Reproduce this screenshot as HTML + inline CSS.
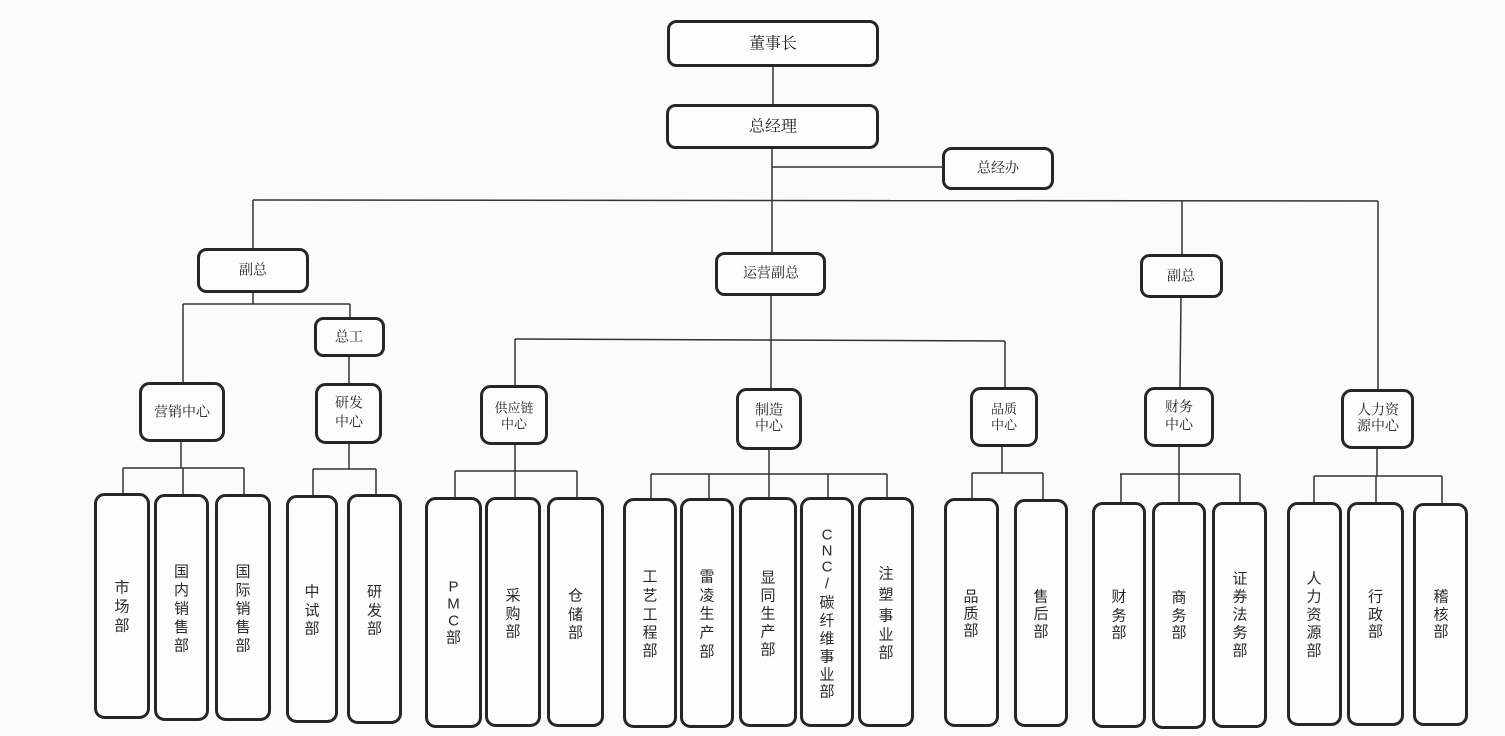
<!DOCTYPE html>
<html>
<head>
<meta charset="utf-8">
<style>
html,body{margin:0;padding:0;background:#fbfbfb;}
svg{display:block;}
.b{fill:#fdfdfd;stroke:#262626;stroke-width:3;}
.l{stroke:#333;stroke-width:1.5;fill:none;}
.t{font-family:"Liberation Serif","Noto Serif CJK SC",serif;fill:#222;text-anchor:middle;dominant-baseline:central;}
.s{font-family:"Liberation Sans","Noto Sans CJK SC",sans-serif;fill:#2a2a2a;text-anchor:middle;dominant-baseline:central;font-size:15px;}
</style>
</head>
<body>
<svg width="1505" height="736" viewBox="0 0 1505 736" xmlns="http://www.w3.org/2000/svg">
<rect x="0" y="0" width="1505" height="736" fill="#fbfbfb"/>

<!-- connectors -->
<g class="l">
<line x1="773" y1="67" x2="773" y2="104"/>
<line x1="772" y1="149" x2="772" y2="252"/>
<line x1="772" y1="167" x2="942" y2="167"/>
<line x1="253" y1="200" x2="1378" y2="201"/>
<line x1="253" y1="200" x2="253" y2="248"/>
<line x1="1182" y1="201" x2="1182" y2="254"/>
<line x1="1378" y1="201" x2="1378" y2="389"/>
<!-- left VP -->
<line x1="253" y1="293" x2="253" y2="304"/>
<line x1="183" y1="304" x2="350" y2="304"/>
<line x1="183" y1="304" x2="183" y2="382"/>
<line x1="350" y1="304" x2="350" y2="317"/>
<line x1="349" y1="357" x2="349" y2="383"/>
<!-- 营销 -->
<line x1="181" y1="442" x2="181" y2="468"/>
<line x1="123" y1="468" x2="244" y2="468"/>
<line x1="123" y1="468" x2="123" y2="494"/>
<line x1="183" y1="468" x2="183" y2="495"/>
<line x1="244" y1="468" x2="244" y2="495"/>
<!-- 研发 -->
<line x1="349" y1="444" x2="349" y2="469"/>
<line x1="313" y1="469" x2="376" y2="469"/>
<line x1="313" y1="469" x2="313" y2="496"/>
<line x1="376" y1="469" x2="376" y2="495"/>
<!-- 运营副总 -->
<line x1="771" y1="296" x2="771" y2="340"/>
<line x1="515" y1="339" x2="1005" y2="341"/>
<line x1="515" y1="339" x2="515" y2="385"/>
<line x1="771" y1="340" x2="771" y2="388"/>
<line x1="1005" y1="341" x2="1005" y2="387"/>
<!-- 供应链 -->
<line x1="515" y1="445" x2="515" y2="471"/>
<line x1="455" y1="471" x2="577" y2="471"/>
<line x1="455" y1="471" x2="455" y2="498"/>
<line x1="515" y1="471" x2="515" y2="498"/>
<line x1="577" y1="471" x2="577" y2="498"/>
<!-- 制造 -->
<line x1="769" y1="450" x2="769" y2="474"/>
<line x1="651" y1="474" x2="887" y2="474"/>
<line x1="651" y1="474" x2="651" y2="499"/>
<line x1="709" y1="474" x2="709" y2="499"/>
<line x1="769" y1="474" x2="769" y2="498"/>
<line x1="828" y1="474" x2="828" y2="498"/>
<line x1="887" y1="474" x2="887" y2="498"/>
<!-- 品质 -->
<line x1="1002" y1="447" x2="1002" y2="473"/>
<line x1="972" y1="473" x2="1043" y2="473"/>
<line x1="972" y1="473" x2="972" y2="499"/>
<line x1="1043" y1="473" x2="1043" y2="500"/>
<!-- right VP -->
<line x1="1181" y1="298" x2="1180" y2="387"/>
<!-- 财务 -->
<line x1="1179" y1="447" x2="1179" y2="474"/>
<line x1="1120" y1="474" x2="1240" y2="474"/>
<line x1="1121" y1="474" x2="1121" y2="503"/>
<line x1="1179" y1="474" x2="1179" y2="503"/>
<line x1="1240" y1="474" x2="1240" y2="503"/>
<!-- 人力 -->
<line x1="1377" y1="449" x2="1377" y2="476"/>
<line x1="1314" y1="476" x2="1442" y2="476"/>
<line x1="1314" y1="476" x2="1314" y2="503"/>
<line x1="1376" y1="476" x2="1376" y2="503"/>
<line x1="1442" y1="476" x2="1442" y2="504"/>
</g>

<!-- top / middle boxes -->
<rect class="b" x="668.5" y="21.5" width="209" height="44" rx="8"/>
<rect class="b" x="667.5" y="105.5" width="210" height="42" rx="8"/>
<rect class="b" x="943.5" y="148.5" width="109" height="40" rx="8"/>
<rect class="b" x="198.5" y="249.5" width="109" height="42" rx="8"/>
<rect class="b" x="716.5" y="253.5" width="108" height="41" rx="8"/>
<rect class="b" x="1141.5" y="255.5" width="80" height="41" rx="8"/>
<rect class="b" x="315.5" y="318.5" width="68" height="37" rx="8"/>
<rect class="b" x="140.5" y="383.5" width="83" height="57" rx="9"/>
<rect class="b" x="316.5" y="384.5" width="64" height="58" rx="9"/>
<rect class="b" x="481.5" y="386.5" width="65" height="57" rx="9"/>
<rect class="b" x="737.5" y="389.5" width="63" height="59" rx="9"/>
<rect class="b" x="971.5" y="388.5" width="65" height="57" rx="9"/>
<rect class="b" x="1145.5" y="388.5" width="67" height="57" rx="9"/>
<rect class="b" x="1342.5" y="390.5" width="70" height="57" rx="9"/>

<text class="t" x="773" y="44" font-size="16">董事长</text>
<text class="t" x="773" y="127" font-size="16">总经理</text>
<text class="t" x="998" y="169" font-size="14">总经办</text>
<text class="t" x="253" y="271" font-size="14">副总</text>
<text class="t" x="771" y="274" font-size="14">运营副总</text>
<text class="t" x="1181" y="277" font-size="14">副总</text>
<text class="t" x="349" y="338" font-size="14">总工</text>
<text class="t" x="182" y="413" font-size="14">营销中心</text>
<text class="t" x="349" y="404" font-size="14">研发</text>
<text class="t" x="349" y="423" font-size="14">中心</text>
<text class="t" x="514" y="408" font-size="13">供应链</text>
<text class="t" x="514" y="424" font-size="13">中心</text>
<text class="t" x="769" y="411" font-size="14">制造</text>
<text class="t" x="769" y="427" font-size="14">中心</text>
<text class="t" x="1004" y="409" font-size="13">品质</text>
<text class="t" x="1004" y="425" font-size="13">中心</text>
<text class="t" x="1179" y="408" font-size="14">财务</text>
<text class="t" x="1179" y="426" font-size="14">中心</text>
<text class="t" x="1378" y="411" font-size="14">人力资</text>
<text class="t" x="1378" y="427" font-size="14">源中心</text>

<!-- bottom boxes -->
<rect class="b" x="95.5" y="494.5" width="53" height="223" rx="9"/>
<rect class="b" x="155.5" y="495.5" width="52" height="224" rx="9"/>
<rect class="b" x="216.5" y="495.5" width="53" height="224" rx="9"/>
<rect class="b" x="287.5" y="496.5" width="49" height="225" rx="9"/>
<rect class="b" x="348.5" y="495.5" width="52" height="227" rx="9"/>
<rect class="b" x="426.5" y="498.5" width="54" height="228" rx="9"/>
<rect class="b" x="486.5" y="498.5" width="53" height="227" rx="9"/>
<rect class="b" x="548.5" y="498.5" width="54" height="227" rx="9"/>
<rect class="b" x="624.5" y="499.5" width="51" height="227" rx="9"/>
<rect class="b" x="681.5" y="499.5" width="51" height="227" rx="9"/>
<rect class="b" x="740.5" y="498.5" width="55" height="227" rx="9"/>
<rect class="b" x="801.5" y="498.5" width="51" height="227" rx="9"/>
<rect class="b" x="859.5" y="498.5" width="53" height="227" rx="9"/>
<rect class="b" x="945.5" y="499.5" width="52" height="226" rx="9"/>
<rect class="b" x="1015.5" y="500.5" width="51" height="225" rx="9"/>
<rect class="b" x="1093.5" y="503.5" width="51" height="223" rx="9"/>
<rect class="b" x="1153.5" y="503.5" width="51" height="224" rx="9"/>
<rect class="b" x="1213.5" y="503.5" width="52" height="223" rx="9"/>
<rect class="b" x="1288.5" y="503.5" width="52" height="221" rx="9"/>
<rect class="b" x="1348.5" y="503.5" width="54" height="221" rx="9"/>
<rect class="b" x="1414.5" y="504.5" width="52" height="220" rx="9"/>

<g class="s">
<text x="122" y="588">市</text><text x="122" y="607">场</text><text x="122" y="626">部</text>

<text x="181.5" y="572">国</text><text x="181.5" y="590.5">内</text><text x="181.5" y="609">销</text><text x="181.5" y="627.5">售</text><text x="181.5" y="646">部</text>

<text x="243" y="572">国</text><text x="243" y="590.5">际</text><text x="243" y="609">销</text><text x="243" y="627.5">售</text><text x="243" y="646">部</text>

<text x="312" y="592">中</text><text x="312" y="611">试</text><text x="312" y="629">部</text>

<text x="374.5" y="592">研</text><text x="374.5" y="611">发</text><text x="374.5" y="629">部</text>

<text x="453.5" y="587">P</text><text x="453.5" y="604">M</text><text x="453.5" y="621">C</text><text x="453.5" y="638">部</text>

<text x="513" y="596">采</text><text x="513" y="614">购</text><text x="513" y="632">部</text>

<text x="575.5" y="596">仓</text><text x="575.5" y="615">储</text><text x="575.5" y="633">部</text>

<text x="650" y="577">工</text><text x="650" y="596">艺</text><text x="650" y="615">工</text><text x="650" y="633">程</text><text x="650" y="651">部</text>

<text x="707" y="577">雷</text><text x="707" y="596">凌</text><text x="707" y="614">生</text><text x="707" y="633">产</text><text x="707" y="652">部</text>

<text x="768" y="578">显</text><text x="768" y="596">同</text><text x="768" y="614">生</text><text x="768" y="632">产</text><text x="768" y="650">部</text>

<text x="827" y="535">C</text><text x="827" y="551">N</text><text x="827" y="567">C</text><text x="827" y="584">/</text><text x="827" y="603">碳</text><text x="827" y="621">纤</text><text x="827" y="639">维</text><text x="827" y="657">事</text><text x="827" y="675">业</text><text x="827" y="692">部</text>

<text x="886" y="574">注</text><text x="886" y="595">塑</text><text x="886" y="616">事</text><text x="886" y="635">业</text><text x="886" y="653">部</text>

<text x="971" y="597">品</text><text x="971" y="614">质</text><text x="971" y="631">部</text>

<text x="1041" y="597">售</text><text x="1041" y="614">后</text><text x="1041" y="632">部</text>

<text x="1119" y="597">财</text><text x="1119" y="616">务</text><text x="1119" y="633">部</text>

<text x="1179" y="598">商</text><text x="1179" y="616">务</text><text x="1179" y="633">部</text>

<text x="1240" y="579">证</text><text x="1240" y="597">券</text><text x="1240" y="615">法</text><text x="1240" y="633">务</text><text x="1240" y="651">部</text>

<text x="1314" y="579">人</text><text x="1314" y="597">力</text><text x="1314" y="615">资</text><text x="1314" y="633">源</text><text x="1314" y="651">部</text>

<text x="1375.5" y="597">行</text><text x="1375.5" y="615">政</text><text x="1375.5" y="632">部</text>

<text x="1441" y="597">稽</text><text x="1441" y="615">核</text><text x="1441" y="632">部</text>
</g>
</svg>
</body>
</html>
